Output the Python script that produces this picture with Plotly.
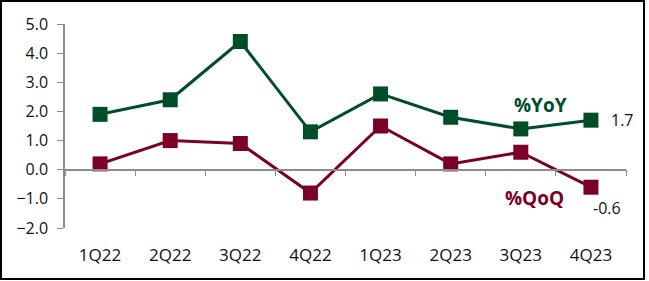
import plotly.graph_objects as go

quarters = ["1Q22", "2Q22", "3Q22", "4Q22", "1Q23", "2Q23", "3Q23", "4Q23"]
yoy = [1.9, 2.4, 4.4, 1.3, 2.6, 1.8, 1.4, 1.7]
qoq = [0.2, 1.0, 0.9, -0.8, 1.5, 0.2, 0.6, -0.6]
y_ticks = [5, 4, 3, 2, 1, 0, -1, -2]

GREEN = "#004D2A"
RED = "#7A0026"
AXIS = "#8C8C8C"
TXT = "#111111"
FONT = "Open Sans"

fig = go.Figure()
fig.add_trace(go.Scatter(x=quarters, y=yoy, mode="lines+markers",
                         line=dict(color=GREEN, width=3),
                         marker=dict(symbol="square", size=15, color=GREEN),
                         showlegend=False))
fig.add_trace(go.Scatter(x=quarters, y=qoq, mode="lines+markers",
                         line=dict(color=RED, width=3),
                         marker=dict(symbol="square", size=15, color=RED),
                         showlegend=False))
fig.add_trace(go.Scatter(x=quarters, y=[None]*len(quarters), xaxis="x2",
                         showlegend=False, hoverinfo="skip"))

fig.update_layout(
    width=649, height=281,
    margin=dict(l=65, r=23, t=24, b=53),
    paper_bgcolor="white", plot_bgcolor="white",
    font=dict(family=FONT, size=16, color=TXT),
    xaxis=dict(type="category", categoryorder="array", categoryarray=quarters,
               range=[-0.5, 7.5], showline=False, showgrid=False, zeroline=False,
               ticks="", ticklabelstandoff=15,
               tickfont=dict(family=FONT, size=17, color=TXT)),
    xaxis2=dict(type="category", categoryorder="array", categoryarray=quarters,
                range=[-0.5, 7.5], overlaying="x", anchor="free", position=2/7,
                showline=True, linecolor=AXIS, linewidth=1.5, showgrid=False,
                ticks="outside", ticklen=6, tickcolor=AXIS, tickson="boundaries",
                showticklabels=False, zeroline=False),
    yaxis=dict(range=[-2, 5], tickvals=y_ticks, tickformat=".1f",
               showline=True, linecolor=AXIS, linewidth=1.5, showgrid=False,
               zeroline=False, ticks="outside", ticklen=6, tickcolor=AXIS,
               ticklabelstandoff=6,
               tickfont=dict(family=FONT, size=16, color=TXT)),
    annotations=[
        dict(x="4Q23", y=yoy[-1], text=f"{yoy[-1]:.1f}", showarrow=False,
             xanchor="left", xshift=18, font=dict(size=16, color=TXT)),
        dict(x="4Q23", y=qoq[-1], text=f"{qoq[-1]:.1f}", showarrow=False,
             xanchor="left", xshift=0, yshift=-21, font=dict(size=16, color=TXT)),
        dict(x="3Q23", y=yoy[-2], text="<b>%YoY</b>", showarrow=False,
             xshift=20, yshift=24, font=dict(size=19, color=GREEN)),
        dict(x="3Q23", y=qoq[-2], text="<b>%QoQ</b>", showarrow=False,
             xshift=14, yshift=-46, font=dict(size=19, color=RED)),
    ],
    shapes=[dict(type="rect", xref="paper", yref="paper", x0=-64/561, x1=1+18/561,
                 y0=-51/204, y1=1+23/204, line=dict(color="black", width=2))],
)

fig.write_html("out.html")
